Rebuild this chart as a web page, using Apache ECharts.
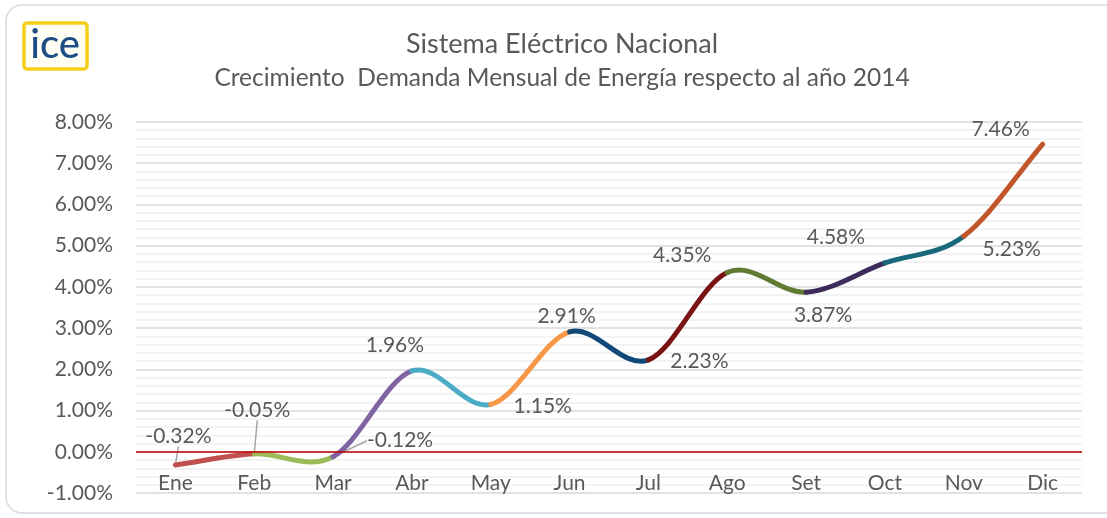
<!DOCTYPE html>
<html>
<head>
<meta charset="utf-8">
<script src="https://cdn.jsdelivr.net/npm/echarts@6/dist/echarts.min.js"></script>
<style>
html,body{margin:0;padding:0;background:#fff;}
#chart{width:1107px;height:518px;}
</style>
</head>
<body>
<div id="chart"></div>
<script>
// ---- data ----
const months = ['Ene','Feb','Mar','Abr','May','Jun','Jul','Ago','Set','Oct','Nov','Dic'];
const growth = [-0.32, -0.05, -0.12, 1.96, 1.15, 2.91, 2.23, 4.35, 3.87, 4.58, 5.23, 7.46];
const yTicks = {min: -1, max: 8, step: 1};
const titleText = 'Sistema Eléctrico Nacional';
const subtitleText = 'Crecimiento  Demanda Mensual de Energía respecto al año 2014';

// ---- styles ----
const segColors = ['#c0504d','#9bbb59','#8064a2','#4bacc6','#f79646','#114a78','#7a1414','#5f7b32','#3d2b5c','#17697b','#c0562a'];
const labelShift = [[3,-29],[3,-44],[67,-16],[-17,-26],[52,2],[-3,-16],[51,1],[-45,-17],[17,23],[-49,-26],[48,13],[-42,-15]];
const withLeader = [true,true,true,false,false,false,false,false,false,false,false,false];
const FONT = 'Lato';
const TXT = '#595959';

const chart = echarts.init(document.getElementById('chart'), null, {renderer:'canvas'});

// one smooth (Catmull-Rom style, like the spreadsheet's smoothed line) segment per month pair,
// positioned through the chart's own axes with api.coord
function pt(api, i) {
  const n = growth.length;
  if (i < 0) { const a = api.coord([0, growth[0]]), b = api.coord([1, growth[1]]); return [2*a[0]-b[0], 2*a[1]-b[1]]; }
  if (i >= n) { const a = api.coord([n-1, growth[n-1]]), b = api.coord([n-2, growth[n-2]]); return [2*a[0]-b[0], 2*a[1]-b[1]]; }
  return api.coord([i, growth[i]]);
}
function renderSegment(params, api) {
  const i = params.dataIndex;
  const p0 = pt(api, i-1), p1 = pt(api, i), p2 = pt(api, i+1), p3 = pt(api, i+2);
  const k = 1/6;
  return {
    type:'bezierCurve',
    shape:{
      x1:p1[0], y1:p1[1], x2:p2[0], y2:p2[1],
      cpx1:p1[0] + (p2[0]-p0[0])*k, cpy1:p1[1] + (p2[1]-p0[1])*k,
      cpx2:p2[0] - (p3[0]-p1[0])*k, cpy2:p2[1] - (p3[1]-p1[1])*k
    },
    style:{fill:'none', stroke:segColors[i], lineWidth:5, lineCap:'round'}
  };
}
const segData = growth.slice(0, -1).map((v, i) => [i, v, growth[i+1]]);

chart.setOption({
  animation: false,
  textStyle: {fontFamily: FONT},
  graphic: [
    {type:'rect', shape:{x:6, y:5, width:1125, height:508, r:16}, style:{fill:'none', stroke:'#d9d9d9', lineWidth:1.5}, z:-1},
    {type:'rect', shape:{x:24, y:23, width:63, height:46, r:3}, style:{fill:'#fffef5', stroke:'#f3cf1a', lineWidth:3.5}},
    {type:'text', x:55, y:45, style:{text:'ice', font:'500 40px '+FONT, fill:'#1e4d86', textAlign:'center', textVerticalAlign:'middle', align:'center', verticalAlign:'middle'}},
    {type:'text', x:562, y:44, style:{text:titleText, font:'27px '+FONT, fill:TXT, textAlign:'center', textVerticalAlign:'middle', align:'center', verticalAlign:'middle'}},
    {type:'text', x:562, y:78, style:{text:subtitleText, font:'24.5px '+FONT, fill:TXT, textAlign:'center', textVerticalAlign:'middle', align:'center', verticalAlign:'middle'}}
  ],
  grid: {left:136, right:25, top:122, bottom:25},
  xAxis: {
    type:'category', data: months, boundaryGap:true,
    axisLine:{show:false, onZero:false}, axisTick:{show:false},
    axisLabel:{inside:true, margin:-1, color:TXT, fontSize:21, fontFamily:FONT}
  },
  yAxis: {
    type:'value', min:yTicks.min, max:yTicks.max, interval:yTicks.step,
    axisLine:{show:false}, axisTick:{show:false},
    axisLabel:{margin:23, color:TXT, fontSize:21, fontFamily:FONT, formatter:(v)=>v.toFixed(2)+'%'},
    splitLine:{lineStyle:{color:'#d9d9d9', width:1.5}},
    minorTick:{show:false, splitNumber:5},
    minorSplitLine:{show:true, lineStyle:{color:'#efefef', width:1.5}}
  },
  series: [
    {
      type:'custom', data: segData, renderItem: renderSegment,
      encode:{x:0, y:[1,2]}, silent:true, z:3, clip:false
    },
    {
      type:'line', data: growth.map((v,i)=>({value:v, labelLine:{show:withLeader[i]}})),
      symbol:'circle', symbolSize:0.1, showSymbol:true,
      itemStyle:{color:'rgba(0,0,0,0)', borderWidth:0},
      lineStyle:{width:0, opacity:0},
      label:{show:true, position:'inside', color:TXT, fontSize:21, fontFamily:FONT, formatter:(p)=>p.value.toFixed(2)+'%'},
      labelLayout:(p)=>({dx:labelShift[p.dataIndex][0], dy:labelShift[p.dataIndex][1]}),
      labelLine:{show:false, lineStyle:{color:'#a6a6a6', width:1.5}},
      markLine:{silent:true, symbol:'none', label:{show:false}, lineStyle:{color:'#c00000', width:1.5, type:'solid'}, data:[{yAxis:0}]},
      z:2
    }
  ]
});
</script>
</body>
</html>
